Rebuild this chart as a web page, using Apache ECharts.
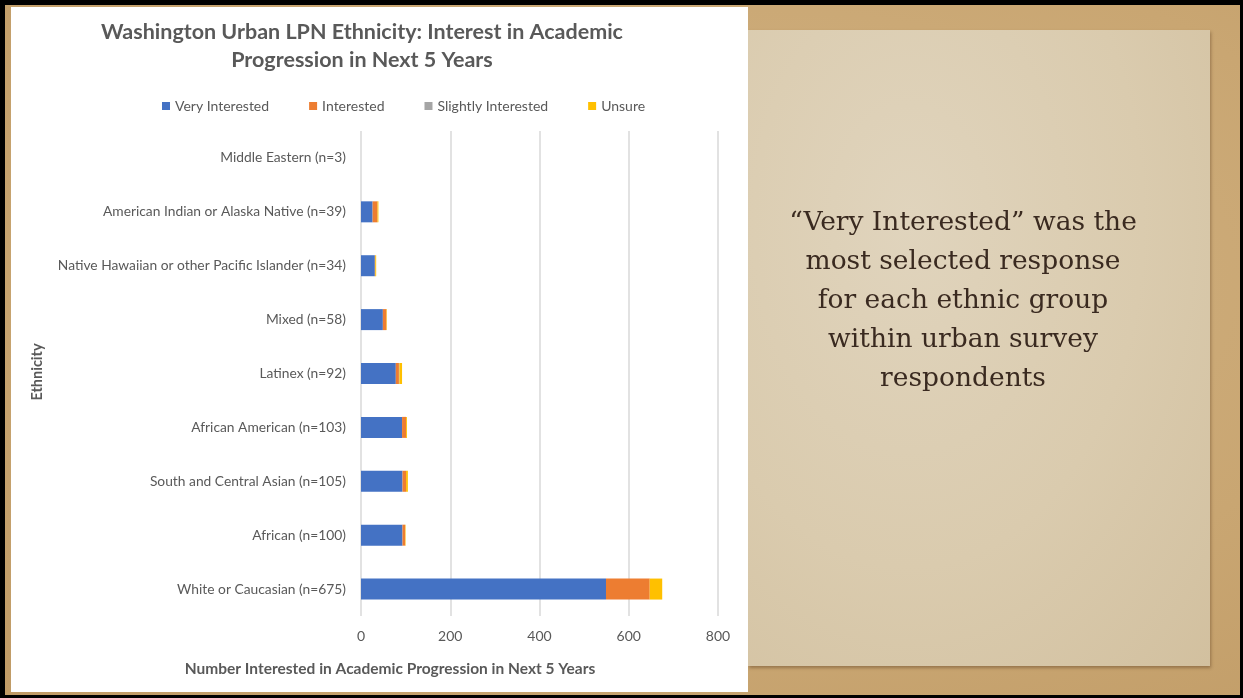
<!DOCTYPE html>
<html>
<head>
<meta charset="utf-8">
<title>Washington Urban LPN Ethnicity</title>
<script src="https://cdn.jsdelivr.net/npm/echarts@6/dist/echarts.min.js"></script>
<style>
  html, body { margin: 0; padding: 0; width: 1243px; height: 698px; overflow: hidden; background: #000; }
  #frame { position: absolute; left: 5px; top: 5px; width: 1235px; height: 690px;
    background: radial-gradient(ellipse at 60% 40%, #d2b384 0%, #c9a672 60%, #c09b66 100%); }
  #paper { position: absolute; left: 748px; top: 30px; width: 462px; height: 636px;
    background: radial-gradient(ellipse at 35% 30%, #e0d4bd 0%, #dacbae 55%, #d2c09f 100%);
    box-shadow: 1px 2px 3px rgba(90,60,30,0.45); }
  #panel { position: absolute; left: 11px; top: 7px; width: 737px; height: 685px; background: #fff; }
  #chart { position: absolute; left: 0; top: 0; width: 1243px; height: 698px; }
</style>
</head>
<body>
<div id="frame"></div>
<div id="paper"></div>
<div id="panel"></div>
<div id="chart"></div>
<script>
// Ethnic groups, listed top to bottom as displayed
const categories = [
  'Middle Eastern (n=3)',
  'American Indian or Alaska Native (n=39)',
  'Native Hawaiian or other Pacific Islander (n=34)',
  'Mixed (n=58)',
  'Latinex (n=92)',
  'African American (n=103)',
  'South and Central Asian (n=105)',
  'African (n=100)',
  'White or Caucasian (n=675)'
];
const veryInterested     = [0, 26, 31, 49, 78, 92, 93, 93, 549];
const interested         = [0, 11, 1, 8, 7, 9, 8, 6, 98];
const slightlyInterested = [0, 0, 0, 0, 1, 0, 0, 0, 0];
const unsure             = [0, 2, 2, 1, 6, 2, 4, 1, 28];
const xTicks = [0, 200, 400, 600, 800];

const textColor = '#595959';
const font = 'Lato, "Open Sans", "Liberation Sans", sans-serif';

const chart = echarts.init(document.getElementById('chart'), null, { renderer: 'canvas' });

function stackSeries(name, data, color) {
  return {
    name: name, type: 'bar', stack: 'total', data: data, barWidth: 21,
    itemStyle: { color: color }, emphasis: { disabled: true }
  };
}

chart.setOption({
  backgroundColor: 'transparent',
  animation: false,
  textStyle: { fontFamily: font },
  title: {
    text: 'Washington Urban LPN Ethnicity: Interest in Academic\nProgression in Next 5 Years',
    left: 357, top: 13, textAlign: 'center',
    textStyle: { fontSize: 21.5, fontWeight: 'bold', color: textColor, lineHeight: 28, fontFamily: font }
  },
  legend: {
    left: 157, top: 94, itemWidth: 8, itemHeight: 8, itemGap: 40,
    icon: 'rect',
    textStyle: { fontSize: 14, color: textColor, fontFamily: font },
    data: ['Very Interested', 'Interested', 'Slightly Interested', 'Unsure']
  },
  grid: { left: 361, right: 525, top: 131, bottom: 82, containLabel: false },
  xAxis: {
    type: 'value', min: xTicks[0], max: xTicks[xTicks.length - 1], interval: 200,
    axisLine: { show: false }, axisTick: { show: false },
    axisLabel: { fontSize: 14, color: textColor, margin: 13, fontFamily: font },
    splitLine: { show: true, lineStyle: { color: '#d9d9d9', width: 1.5 } }
  },
  yAxis: {
    type: 'category', data: categories, inverse: true,
    axisLine: { show: false }, axisTick: { show: false },
    axisLabel: { fontSize: 13.8, color: textColor, margin: 15, fontFamily: font }
  },
  graphic: [
    { type: 'text', x: 390, y: 669,
      style: { text: 'Number Interested in Academic Progression in Next 5 Years',
        fontSize: 15.5, fontWeight: 'bold', fontFamily: font, fill: textColor,
        align: 'center', verticalAlign: 'middle' } },
    { type: 'text', x: 37, y: 372, rotation: Math.PI / 2,
      style: { text: 'Ethnicity', fontSize: 14.5, fontWeight: 'bold', fontFamily: font,
        fill: textColor, align: 'center', verticalAlign: 'middle' } },
    { type: 'text', x: 963, y: 301,
      style: {
        text: '\u201cVery Interested\u201d was the\nmost selected response\nfor each ethnic group\nwithin urban survey\nrespondents',
        fontSize: 26.5, fontFamily: '"DejaVu Serif", serif', fill: '#3a2a20', lineHeight: 39,
        align: 'center', verticalAlign: 'middle' } }
  ],
  series: [
    stackSeries('Very Interested', veryInterested, '#4472c4'),
    stackSeries('Interested', interested, '#ed7d31'),
    stackSeries('Slightly Interested', slightlyInterested, '#a5a5a5'),
    stackSeries('Unsure', unsure, '#ffc000')
  ]
});
</script>
</body>
</html>
